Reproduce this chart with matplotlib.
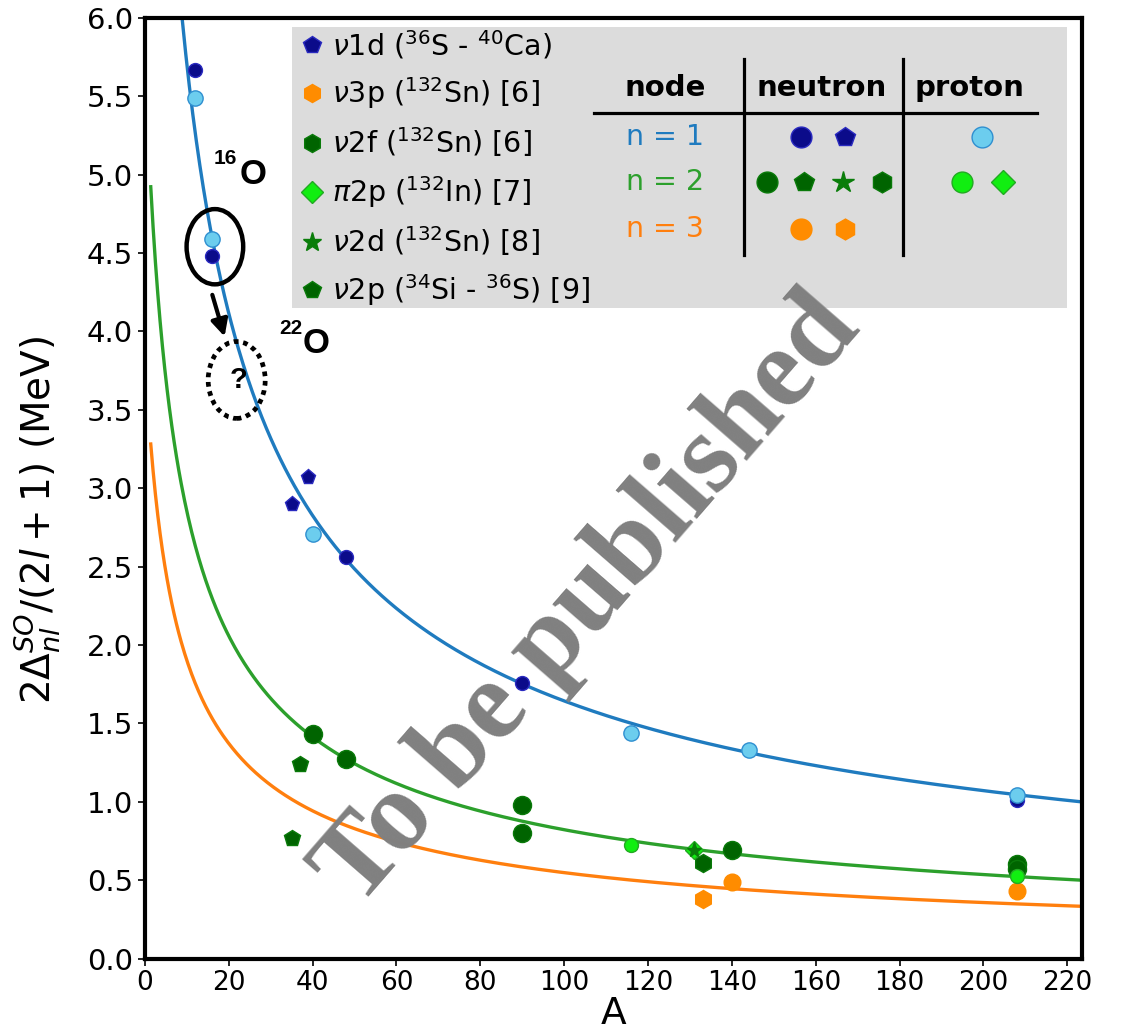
import numpy as np
import matplotlib
matplotlib.use('Agg')
import matplotlib.pyplot as plt
from matplotlib.patches import Ellipse, Rectangle
from matplotlib.lines import Line2D

# ---------------- data ----------------
# node n = 1
A_n1_neu = [12, 16, 48, 90, 208]
E_n1_neu = [5.67, 4.48, 2.56, 1.76, 1.01]
A_n1_neu_pent = [35, 39]            # nu1d (36S - 40Ca)
E_n1_neu_pent = [2.90, 3.07]
A_n1_pro = [12, 16, 40, 116, 144, 208]
E_n1_pro = [5.49, 4.59, 2.71, 1.44, 1.33, 1.04]

# node n = 2
A_n2_neu = [40, 48, 90, 90, 140, 208, 208]
E_n2_neu = [1.43, 1.27, 0.98, 0.80, 0.69, 0.60, 0.57]
A_n2_neu_pent = [35, 37]            # nu2p (34Si - 36S)
E_n2_neu_pent = [0.77, 1.24]
A_n2_neu_star = [131]               # nu2d (132Sn)
E_n2_neu_star = [0.69]
A_n2_neu_hex = [133]                # nu2f (132Sn)
E_n2_neu_hex = [0.61]
A_n2_pro = [116, 208]
E_n2_pro = [0.725, 0.525]
A_n2_pro_dia = [131]                # pi2p (132In)
E_n2_pro_dia = [0.69]

# node n = 3
A_n3_neu = [140, 208]
E_n3_neu = [0.49, 0.43]
A_n3_neu_hex = [133]                # nu3p (132Sn)
E_n3_neu_hex = [0.38]

# fitted systematics: E = C/n * (A0/(A+A0))**p
fit_C = 11.53
fit_A0 = 5.0
fit_p = 0.64
fit_Amin = 1.4
nodes = [1, 2, 3]

c_blue = '#1f7bbf'
c_green = '#2ca02c'
c_orange = '#ff7f0e'
node_colors = [c_blue, c_green, c_orange]

navy = '#0b0b8a'
navy_e = '#2a2ac0'
lblue = '#6ccdee'
lblue_e = '#2f8fd0'
dgreen = '#006400'
dgreen_e = '#0a7a0a'
lime = '#11ee11'
lime_e = '#22aa22'
star_c = '#0a7d0a'
dorange = '#ff8c00'

# ---------------- figure ----------------
fig = plt.figure(figsize=(11.23, 10.36), dpi=100)
ax = fig.add_axes([0.129, 0.0748, 0.8345, 0.908])

A = np.linspace(fit_Amin, 224, 800)
for n, col in zip(nodes, node_colors):
    ax.plot(A, fit_C / n * (fit_A0 / (A + fit_A0)) ** fit_p, color=col, lw=2.4, zorder=2)

def pts(x, y, m, fc, ec, ms, z=3):
    ax.plot(x, y, ls='none', marker=m, mfc=fc, mec=ec, ms=ms, mew=1.0, zorder=z)

pts(A_n1_neu, E_n1_neu, 'o', navy, navy_e, 10)
pts(A_n1_neu_pent, E_n1_neu_pent, 'p', navy, navy_e, 11)
pts(A_n1_pro, E_n1_pro, 'o', lblue, lblue_e, 11, 4)
pts(A_n2_neu, E_n2_neu, 'o', dgreen, dgreen_e, 13)
pts(A_n2_neu_pent, E_n2_neu_pent, 'p', dgreen, dgreen_e, 12)
pts(A_n2_neu_hex, E_n2_neu_hex, 'h', dgreen, dgreen_e, 13)
pts(A_n2_pro, E_n2_pro, 'o', lime, lime_e, 10, 4)
pts(A_n2_pro_dia, E_n2_pro_dia, 'D', lime, lime_e, 9, 4)
pts(A_n2_neu_star, E_n2_neu_star, '*', star_c, star_c, 11, 5)
pts(A_n3_neu, E_n3_neu, 'o', dorange, dorange, 12)
pts(A_n3_neu_hex, E_n3_neu_hex, 'h', dorange, dorange, 13)

ax.set_xlim(0, 223.5)
ax.set_ylim(0, 6.0)
ax.set_xticks(np.arange(0, 221, 20))
ax.set_yticks(np.arange(0, 6.01, 0.5))
ax.yaxis.set_major_formatter(matplotlib.ticker.FormatStrFormatter('%.1f'))
ax.tick_params(direction='out', length=5, width=1.2)
ax.tick_params(axis='x', labelsize=19)
ax.tick_params(axis='y', labelsize=21)
for s in ax.spines.values():
    s.set_linewidth(3)
ax.set_xlabel('A', fontsize=27, labelpad=0)
ax.set_ylabel(r'$2\Delta_{nl}^{SO}/(2l+1)$ (MeV)', fontsize=28)
ax.yaxis.set_label_coords(-0.087, 0.466)

# ---------------- legend box + table ----------------
ax.add_patch(Rectangle((0.157, 0.692), 0.827, 0.298, transform=ax.transAxes,
                       facecolor='#dcdcdc', edgecolor='none', zorder=1))

leg_handles = [
    Line2D([], [], ls='none', marker='p', mfc=navy, mec=navy_e, ms=13),
    Line2D([], [], ls='none', marker='h', mfc=dorange, mec=dorange, ms=13),
    Line2D([], [], ls='none', marker='h', mfc=dgreen, mec=dgreen_e, ms=13),
    Line2D([], [], ls='none', marker='D', mfc=lime, mec=lime_e, ms=11),
    Line2D([], [], ls='none', marker='*', mfc=star_c, mec=star_c, ms=14),
    Line2D([], [], ls='none', marker='p', mfc=dgreen, mec=dgreen_e, ms=13),
]
leg_labels = [
    r'$\nu$1d ($^{36}$S - $^{40}$Ca)',
    r'$\nu$3p ($^{132}$Sn) [6]',
    r'$\nu$2f ($^{132}$Sn) [6]',
    r'$\pi$2p ($^{132}$In) [7]',
    r'$\nu$2d ($^{132}$Sn) [8]',
    r'$\nu$2p ($^{34}$Si - $^{36}$S) [9]',
]
leg = ax.legend(leg_handles, leg_labels, loc='upper left', bbox_to_anchor=(0.157, 0.995),
                frameon=False, fontsize=20.5, handletextpad=0.2, handlelength=1.0,
                labelspacing=0.5, borderpad=0.2, borderaxespad=0)
leg.set_zorder(6)

tr = ax.transAxes
for x, t in zip([0.555, 0.7225, 0.880], ['node', 'neutron', 'proton']):
    ax.text(x, 0.925, t, transform=tr, ha='center', va='center', fontsize=21,
            fontweight='bold', zorder=6)
ax.plot([0.479, 0.952], [0.899, 0.899], transform=tr, color='k', lw=2.3, zorder=6)
for x in [0.639, 0.809]:
    ax.plot([x, x], [0.748, 0.956], transform=tr, color='k', lw=2.3, zorder=6)
for y, n, col in zip([0.873, 0.825, 0.775], nodes, node_colors):
    ax.text(0.555, y, 'n = %d' % n, transform=tr, ha='center', va='center',
            fontsize=20.5, color=col, zorder=6)

def tmark(x, y, m, fc, ec, ms):
    ax.plot([x], [y], transform=tr, ls='none', marker=m, mfc=fc, mec=ec, ms=ms,
            mew=1.0, zorder=7, clip_on=False)

tmark(0.700, 0.873, 'o', navy, navy_e, 15)
tmark(0.747, 0.873, 'p', navy, navy_e, 15)
tmark(0.893, 0.873, 'o', lblue, lblue_e, 15)
tmark(0.664, 0.825, 'o', dgreen, dgreen_e, 15)
tmark(0.703, 0.825, 'p', dgreen, dgreen_e, 15)
tmark(0.745, 0.825, '*', star_c, star_c, 16)
tmark(0.787, 0.825, 'h', dgreen, dgreen_e, 15)
tmark(0.872, 0.825, 'o', lime, lime_e, 15)
tmark(0.916, 0.825, 'D', lime, lime_e, 12)
tmark(0.700, 0.775, 'o', dorange, dorange, 15)
tmark(0.747, 0.775, 'h', dorange, dorange, 15)

# ---------------- 16O / 22O annotation ----------------
ax.add_patch(Ellipse((16.7, 4.54), 13.5, 0.48, fill=False, ec='k', lw=3.2, zorder=6))
ax.add_patch(Ellipse((21.9, 3.69), 13.6, 0.49, fill=False, ec='k', lw=3.4,
                     ls=(0, (1, 1)), zorder=6))
ax.annotate('', xy=(19.2, 3.95), xytext=(15.9, 4.25),
            arrowprops=dict(arrowstyle='-|>', color='k', lw=3, mutation_scale=25), zorder=6)
ax.text(22.3, 3.69, '?', ha='center', va='center', fontsize=21, fontweight='bold',
        family='Liberation Sans', zorder=6)
ax.text(16.5, 5.10, '16', ha='left', va='center', fontsize=15, fontweight='bold',
        family='Liberation Sans', zorder=6)
ax.text(22.5, 5.00, 'O', ha='left', va='center', fontsize=25, fontweight='bold',
        family='Liberation Sans', zorder=6)
ax.text(32.0, 4.02, '22', ha='left', va='center', fontsize=15, fontweight='bold',
        family='Liberation Sans', zorder=6)
ax.text(37.6, 3.92, 'O', ha='left', va='center', fontsize=25, fontweight='bold',
        family='Liberation Sans', zorder=6)

# ---------------- watermark ----------------
ax.text(0.474, 0.380, 'To be published', transform=tr, ha='center', va='center',
        rotation=49, rotation_mode='anchor', fontsize=82, fontweight='bold',
        family='Liberation Serif', color='#808080', zorder=8)

fig.savefig('out.png', dpi=100)
